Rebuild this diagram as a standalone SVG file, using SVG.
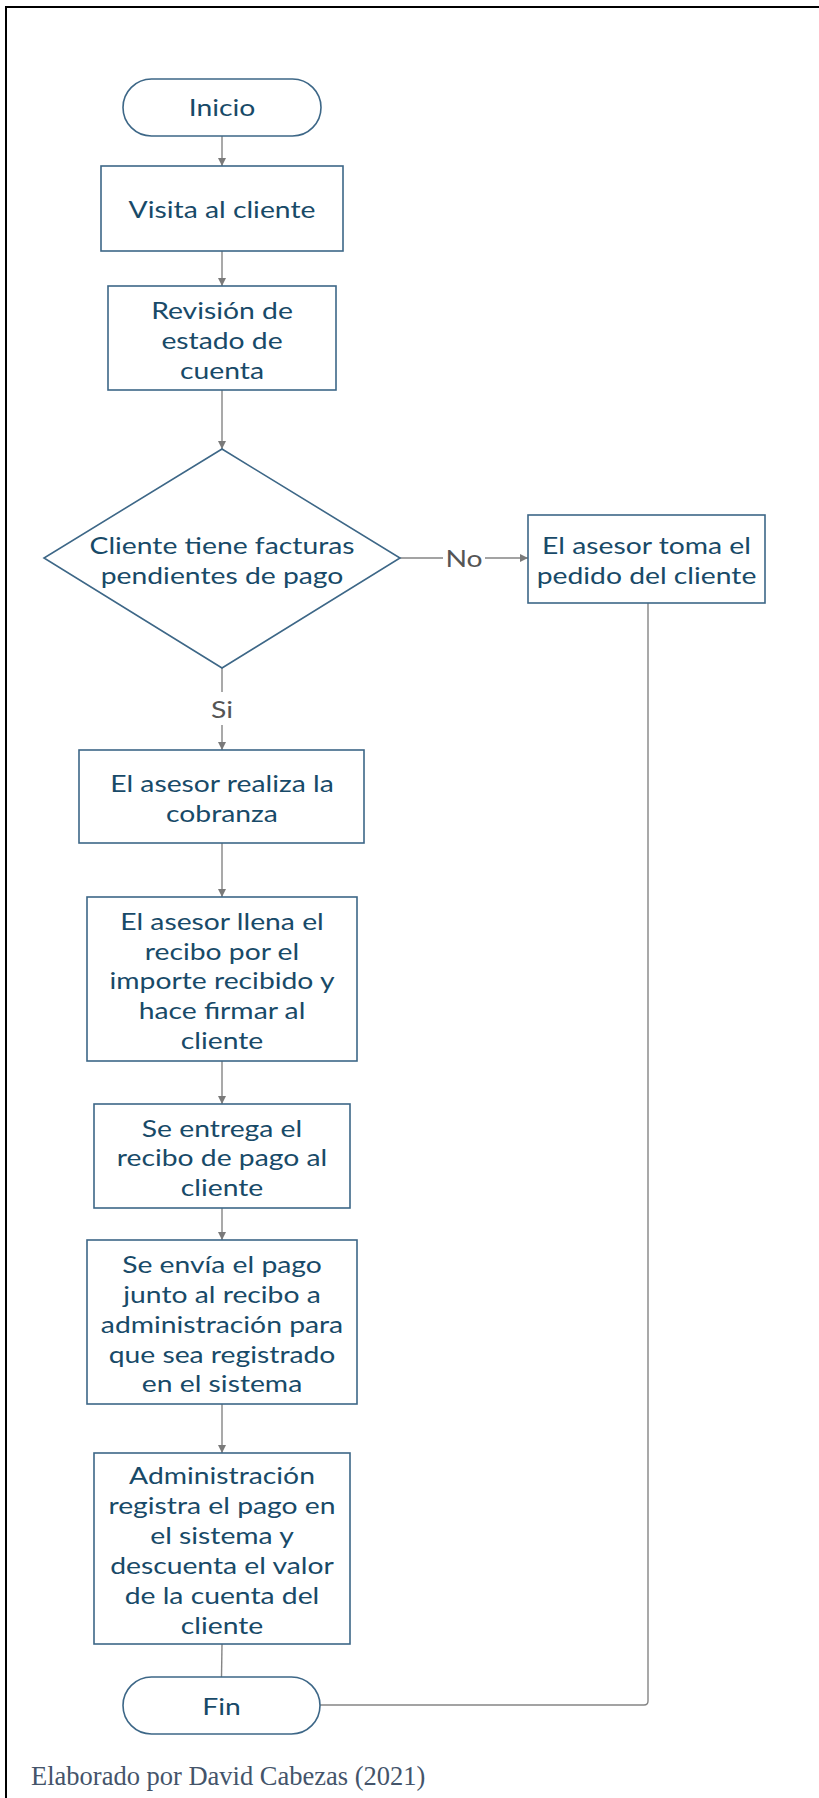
<svg xmlns="http://www.w3.org/2000/svg" width="819" height="1798" viewBox="0 0 819 1798">
<defs>
<marker id="ah" viewBox="0 0 10 10" refX="10" refY="5" markerWidth="8" markerHeight="8" markerUnits="userSpaceOnUse" orient="auto">
<path d="M0,0 L10,5 L0,10 z" fill="#7a7a7a"/>
</marker>
<style>
.n{fill:#ffffff;stroke:#3d6787;stroke-width:1.6}
.t{font-family:Lato,"Open Sans","Liberation Sans",sans-serif;font-size:23px;fill:#184a68;text-anchor:middle;dominant-baseline:central}
.c{fill:none;stroke:#858585;stroke-width:1.4}
.ca{fill:none;stroke:#858585;stroke-width:1.4;marker-end:url(#ah)}
.l{font-family:Lato,"Open Sans","Liberation Sans",sans-serif;font-size:23px;fill:#555555;text-anchor:middle;dominant-baseline:central}
</style>
</defs>
<rect width="819" height="1798" fill="#ffffff"/>
<path d="M6,1798 L6,7 L819,7" fill="none" stroke="#000000" stroke-width="2"/>
<g id="connectors">
<line class="ca" x1="222" y1="136" x2="222" y2="166"/>
<line class="ca" x1="222" y1="251" x2="222" y2="286"/>
<line class="ca" x1="222" y1="390" x2="222" y2="449"/>
<line class="ca" x1="400" y1="558" x2="528" y2="558"/>
<line class="c" x1="222" y1="668" x2="222" y2="692"/>
<line class="ca" x1="222" y1="725" x2="222" y2="750"/>
<line class="ca" x1="222" y1="843" x2="222" y2="897"/>
<line class="ca" x1="222" y1="1061" x2="222" y2="1104"/>
<line class="ca" x1="222" y1="1208" x2="222" y2="1240"/>
<line class="ca" x1="222" y1="1404" x2="222" y2="1453"/>
<line class="c" x1="222" y1="1644" x2="221.5" y2="1677"/>
<path class="c" d="M648,603 L648,1701 Q648,1705 644,1705 L320,1705"/>
<rect x="443" y="544" width="42" height="28" fill="#ffffff"/>
<g transform="translate(464,0) scale(1.23,1)"><text class="l" x="0" y="558">No</text></g>
<g transform="translate(222,0) scale(1.23,1)"><text class="l" x="0" y="709">Si</text></g>
</g>
<g id="inicio">
<rect class="n" x="123" y="79" width="198" height="57" rx="28.5"/>
<g transform="translate(222,0) scale(1.23,1)"><text class="t" x="0" y="107.5">Inicio</text></g>
</g>
<g id="visita">
<rect class="n" x="101" y="166" width="242" height="85"/>
<g transform="translate(222,0) scale(1.23,1)"><text class="t" x="0" y="209">Visita al cliente</text></g>
</g>
<g id="revision">
<rect class="n" x="108" y="286" width="228" height="104"/>
<g transform="translate(222,0) scale(1.23,1)">
<text class="t" x="0" y="310">Revisión de</text>
<text class="t" x="0" y="340">estado de</text>
<text class="t" x="0" y="370">cuenta</text>
</g>
</g>
<g id="decision">
<polygon class="n" points="222,449 400,558 222,668 44,558"/>
<g transform="translate(222,0) scale(1.23,1)">
<text class="t" x="0" y="545">Cliente tiene facturas</text>
<text class="t" x="0" y="575">pendientes de pago</text>
</g>
</g>
<g id="pedido">
<rect class="n" x="528" y="515" width="237" height="88"/>
<g transform="translate(646.5,0) scale(1.23,1)">
<text class="t" x="0" y="545">El asesor toma el</text>
<text class="t" x="0" y="575">pedido del cliente</text>
</g>
</g>
<g id="cobranza">
<rect class="n" x="79" y="750" width="285" height="93"/>
<g transform="translate(222,0) scale(1.23,1)">
<text class="t" x="0" y="783">El asesor realiza la</text>
<text class="t" x="0" y="813">cobranza</text>
</g>
</g>
<g id="recibo">
<rect class="n" x="87" y="897" width="270" height="164"/>
<g transform="translate(222,0) scale(1.23,1)">
<text class="t" x="0" y="921">El asesor llena el</text>
<text class="t" x="0" y="951">recibo por el</text>
<text class="t" x="0" y="980.5">importe recibido y</text>
<text class="t" x="0" y="1010">hace firmar al</text>
<text class="t" x="0" y="1040">cliente</text>
</g>
</g>
<g id="entrega">
<rect class="n" x="94" y="1104" width="256" height="104"/>
<g transform="translate(222,0) scale(1.23,1)">
<text class="t" x="0" y="1128">Se entrega el</text>
<text class="t" x="0" y="1157.5">recibo de pago al</text>
<text class="t" x="0" y="1187">cliente</text>
</g>
</g>
<g id="envia">
<rect class="n" x="87" y="1240" width="270" height="164"/>
<g transform="translate(222,0) scale(1.23,1)">
<text class="t" x="0" y="1264.5">Se envía el pago</text>
<text class="t" x="0" y="1294">junto al recibo a</text>
<text class="t" x="0" y="1324">administración para</text>
<text class="t" x="0" y="1354">que sea registrado</text>
<text class="t" x="0" y="1383.5">en el sistema</text>
</g>
</g>
<g id="registra">
<rect class="n" x="94" y="1453" width="256" height="191"/>
<g transform="translate(222,0) scale(1.23,1)">
<text class="t" x="0" y="1475">Administración</text>
<text class="t" x="0" y="1505">registra el pago en</text>
<text class="t" x="0" y="1535">el sistema y</text>
<text class="t" x="0" y="1565">descuenta el valor</text>
<text class="t" x="0" y="1595">de la cuenta del</text>
<text class="t" x="0" y="1625">cliente</text>
</g>
</g>
<g id="fin">
<rect class="n" x="123" y="1677" width="197" height="57" rx="28.5"/>
<g transform="translate(221.5,0) scale(1.23,1)"><text class="t" x="0" y="1706">Fin</text></g>
</g>
<text x="31" y="1785" font-family="'Liberation Serif','Times New Roman',serif" font-size="26.5" fill="#44546a">Elaborado por David Cabezas (2021)</text>
</svg>
